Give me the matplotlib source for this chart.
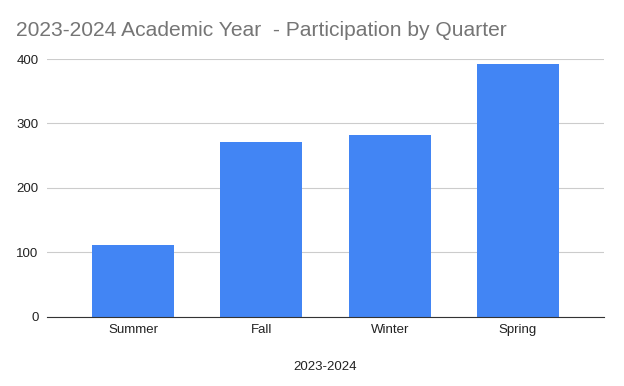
import matplotlib
matplotlib.use('Agg')
import matplotlib.pyplot as plt

quarters = ['Summer', 'Fall', 'Winter', 'Spring']
participation = [111, 271, 282, 392]

plt.rcParams['font.family'] = ['Liberation Sans', 'DejaVu Sans']

fig = plt.figure(figsize=(6.24, 3.86), dpi=100)
ax = fig.add_axes([0.0753, 0.1795, 0.8927, 0.6675])

ax.bar(range(len(quarters)), participation, width=0.64, color='#4285f4', zorder=3)

ax.set_xlim(-0.67, len(quarters) - 1 + 0.67)
ax.set_ylim(0, 400)
ax.set_yticks([0, 100, 200, 300, 400])
ax.set_xticks(range(len(quarters)))
ax.set_xticklabels(quarters)
ax.grid(axis='y', color='#cccccc', linewidth=0.8, zorder=0)
for s in ['top', 'right', 'left']:
    ax.spines[s].set_visible(False)
ax.spines['bottom'].set_color('#333333')
ax.spines['bottom'].set_zorder(4)
ax.tick_params(axis='both', length=0, labelsize=9.5, colors='#222222')
ax.tick_params(axis='y', pad=6)
ax.tick_params(axis='x', pad=5)

ax.set_xlabel('2023-2024', fontsize=9.5, color='#222222', labelpad=18)
fig.text(0.026, 0.922, '2023-2024 Academic Year  - Participation by Quarter',
         fontsize=15.1, color='#757575', va='center', ha='left')

fig.savefig('out.png', dpi=100)
